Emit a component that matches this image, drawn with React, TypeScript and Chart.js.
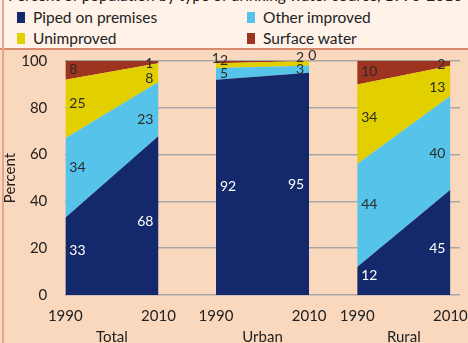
import React, { useEffect, useRef } from "react";
import { Chart, registerables } from "chart.js";

Chart.register(...registerables);

const titleText = "Percent of population by type of drinking water source, 1990-2010";
const panels = ["Total", "Urban", "Rural"];
const years = ["1990", "2010"];
const seriesNames = ["Piped on premises", "Other improved", "Unimproved", "Surface water"];
const seriesColors = ["#13296b", "#56c3ea", "#e1cf00", "#9e3320"];
// values per panel: [1990, 2010]
const piped = [[33, 68], [92, 95], [12, 45]];
const otherImproved = [[34, 23], [5, 3], [44, 40]];
const unimproved = [[25, 8], [2, 2], [34, 13]];
const surfaceWater = [[8, 1], [1, 0], [10, 2]];
const yTicks = [0, 20, 40, 60, 80, 100];

const series = [piped, otherImproved, unimproved, surfaceWater];

// layout of the three panels on a linear x axis (units = years)
const panelStart = [0, 32.34, 62.66];
const span = 20;
const xMax = 84.7;

const FONT = 'Lato, "Open Sans", sans-serif';
const TEXT = "#222222";

const labelPlugin = {
  id: "areaLabels",
  afterDatasetsDraw(chart: any) {
    const { ctx, scales } = chart;
    const xs = scales.x;
    const ys = scales.y;
    ctx.save();
    ctx.font = `14px ${FONT}`;
    ctx.textBaseline = "middle";
    const G = 5.3;
    panels.forEach((_, p) => {
      const x0 = xs.getPixelForValue(panelStart[p]);
      const x1 = xs.getPixelForValue(panelStart[p] + span);
      years.forEach((__, side) => {
        const f = side === 0 ? 0.15 : 0.85;
        let c0 = 0;
        let c1 = 0;
        let prevY: number | null = null;
        let prevPushed = false;
        series.forEach((vals, s) => {
          const a = vals[p][0];
          const b = vals[p][1];
          const lo = c0 + (c1 - c0) * f;
          c0 += a;
          c1 += b;
          const hi = c0 + (c1 - c0) * f;
          let v = (lo + hi) / 2;
          let pushed = false;
          let stagger = false;
          if (prevY !== null && v < prevY + G) {
            if (prevPushed) {
              v = prevY + 1;
              stagger = true;
            } else {
              v = prevY + G;
              pushed = true;
            }
          }
          const text = String(side === 0 ? a : b);
          ctx.fillStyle = s === 0 ? "#ffffff" : "#2b2b2b";
          let px: number;
          if (side === 0) {
            px = x0 + 4;
            ctx.textAlign = stagger ? "right" : "left";
          } else {
            px = x1 - 5;
            ctx.textAlign = stagger ? "left" : "right";
            if (stagger) px = x1 - 1;
          }
          ctx.fillText(text, px, ys.getPixelForValue(v));
          prevY = v;
          prevPushed = pushed;
        });
      });
    });
    // group labels
    ctx.font = `15px ${FONT}`;
    ctx.fillStyle = TEXT;
    ctx.textAlign = "center";
    panels.forEach((name, p) => {
      const cx = xs.getPixelForValue(panelStart[p] + span / 2);
      ctx.fillText(name, cx, chart.chartArea.bottom + 42);
    });
    ctx.restore();
  },
};

export default function App() {
  const canvasRef = useRef<HTMLCanvasElement | null>(null);

  useEffect(() => {
    if (!canvasRef.current) return;
    const datasets: any[] = [];
    panels.forEach((name, p) => {
      series.forEach((vals, s) => {
        datasets.push({
          label: `${name} - ${seriesNames[s]}`,
          data: [
            { x: panelStart[p], y: vals[p][0] },
            { x: panelStart[p] + span, y: vals[p][1] },
          ],
          backgroundColor: seriesColors[s],
          borderColor: seriesColors[s],
          borderWidth: 0,
          pointRadius: 0,
          tension: 0,
          fill: s === 0 ? "origin" : "-1",
          stack: "panel" + p,
        });
      });
    });
    const tickVals: number[] = [];
    panelStart.forEach((st) => {
      tickVals.push(st, st + span);
    });

    const chart = new Chart(canvasRef.current, {
      type: "line",
      data: { datasets },
      plugins: [labelPlugin],
      options: {
        animation: false,
        responsive: true,
        maintainAspectRatio: false,
        layout: { padding: { left: 1, right: 9, top: 0, bottom: 0 } },
        plugins: {
          legend: { display: false },
          tooltip: { enabled: false },
        },
        scales: {
          x: {
            type: "linear",
            min: 0,
            max: xMax,
            grid: { display: false, drawTicks: false },
            border: { display: false },
            afterBuildTicks: (scale: any) => {
              scale.ticks = tickVals.map((v) => ({ value: v }));
            },
            afterFit: (scale: any) => {
              scale.height = 48;
            },
            ticks: {
              autoSkip: false,
              maxRotation: 0,
              padding: 12,
              color: TEXT,
              font: { family: FONT, size: 15 },
              callback: (_v: any, i: number) => years[i % 2],
            },
          },
          y: {
            stacked: true,
            min: 0,
            max: 100,
            afterBuildTicks: (scale: any) => {
              scale.ticks = yTicks.map((v) => ({ value: v }));
            },
            afterFit: (scale: any) => {
              scale.width = 64.3;
            },
            grid: { color: "#a6a6a6", lineWidth: 1.5, drawTicks: false },
            border: { display: false },
            ticks: {
              padding: 18,
              color: TEXT,
              font: { family: FONT, size: 15 },
            },
            title: {
              display: true,
              text: "Percent",
              color: TEXT,
              font: { family: FONT, size: 15 },
              padding: 0,
            },
          },
        },
      } as any,
    });
    return () => chart.destroy();
  }, []);

  const legendItem = (i: number, left: number, top: number) => (
    <div key={i} style={{ position: "absolute", left, top, height: 20, display: "flex", alignItems: "center" }}>
      <span style={{ display: "inline-block", width: 8, height: 11, background: seriesColors[i], marginRight: 8 }} />
      <span style={{ fontFamily: FONT, fontSize: 15.5, color: TEXT, whiteSpace: "nowrap" }}>{seriesNames[i]}</span>
    </div>
  );

  return (
    <div style={{ position: "fixed", left: 0, top: 0, width: 468, height: 343, background: "#fad8be", overflow: "hidden" }}>
      <div style={{ position: "absolute", left: 0, top: 0, width: 468, height: 48, background: "#fef2e9", borderBottom: "2px solid #d98a6c" }}>
        <div style={{ position: "absolute", left: 8, top: -14, fontFamily: FONT, fontSize: 15.5, lineHeight: "18px", color: TEXT, whiteSpace: "nowrap" }}>
          {titleText}
        </div>
        {legendItem(0, 17, 7)}
        {legendItem(1, 247, 7)}
        {legendItem(2, 17, 28)}
        {legendItem(3, 247, 28)}
      </div>
      <div style={{ position: "absolute", left: 2, top: 0, width: 2, height: 343, background: "#e3a58b" }} />
      <div style={{ position: "absolute", left: 0, top: 34, width: 480, height: 309 }}>
        <canvas ref={canvasRef} />
      </div>
    </div>
  );
}
